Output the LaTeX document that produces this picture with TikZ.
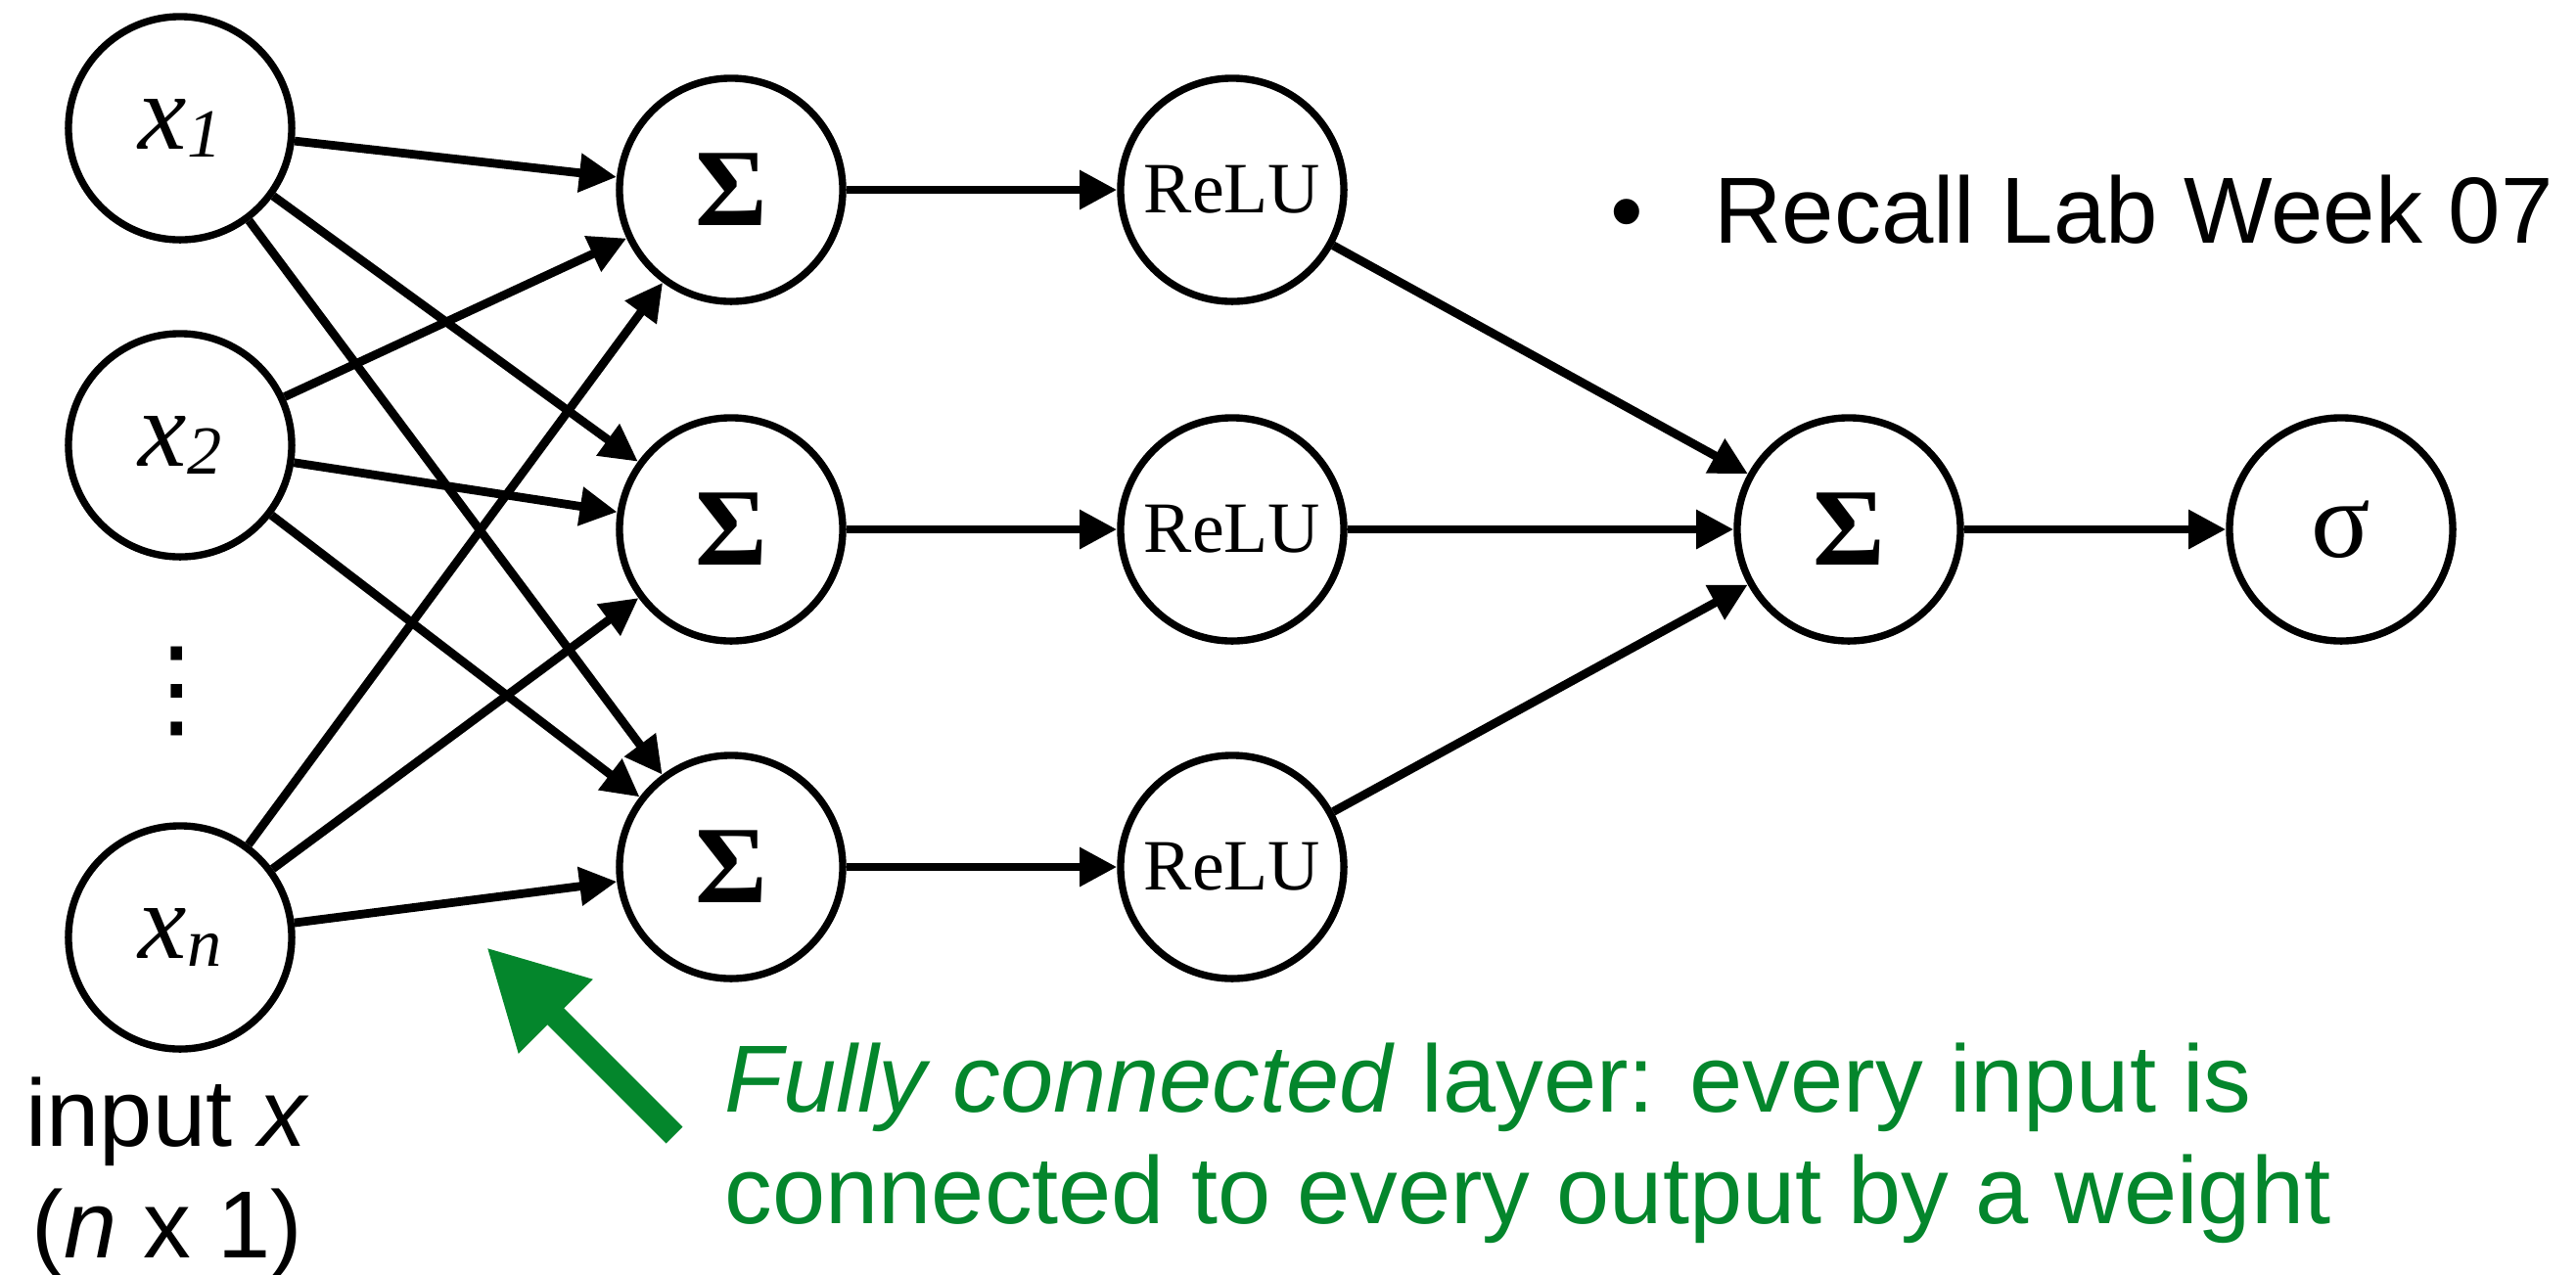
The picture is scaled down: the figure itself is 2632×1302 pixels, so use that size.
\documentclass[tikz,border=0pt]{standalone}
\usepackage{fontspec}
\setmainfont{Liberation Serif}
\setsansfont{Liberation Sans}
\newfontfamily\symfont{DejaVu Sans}
\usetikzlibrary{arrows.meta}
\definecolor{fcgreen}{RGB}{4,134,44}
\newcommand{\inlab}[1]{\textit{x}\raisebox{-0.08cm}{\fontsize{20}{20}\selectfont\textit{#1}}}

\begin{document}
\begin{tikzpicture}[x=0.01cm,y=-0.01cm,
  neuron/.style={circle,draw,line width=2.1pt,minimum size=2.28cm,inner sep=0pt},
  wire/.style={line width=2.5pt,-{Triangle[length=0.38cm,width=0.38cm]}},
  big/.style={font=\fontsize{32}{32}\selectfont},
  note/.style={inner sep=0pt,font=\sffamily\fontsize{27.7}{32.4}\selectfont}]
\useasboundingbox (0,0) rectangle (2632,1302);

% inputs
\node[neuron,font=\fontsize{31.6}{32}\selectfont] (x1) at (184,131) {\inlab{1}};
\node[neuron,font=\fontsize{31.6}{32}\selectfont] (x2) at (184,455) {\inlab{2}};
\node[neuron,font=\fontsize{31.6}{32}\selectfont] (xn) at (184,958) {\inlab{n}};
\node[inner sep=0pt,font=\symfont\fontsize{32}{32}\selectfont] (dots) at (181,706) {⋮};

% hidden layer
\node[neuron,big] (s1) at (747,194) {\textbf{Σ}};
\node[neuron,big] (s2) at (747,541) {\textbf{Σ}};
\node[neuron,big] (s3) at (747,886) {\textbf{Σ}};
\node[neuron,font=\fontsize{21}{21}\selectfont] (r1) at (1259,194) {ReLU};
\node[neuron,font=\fontsize{21}{21}\selectfont] (r2) at (1259,541) {ReLU};
\node[neuron,font=\fontsize{21}{21}\selectfont] (r3) at (1259,886) {ReLU};

% output
\node[neuron,big] (out) at (1889,541) {\textbf{Σ}};
\node[neuron,big] (sig) at (2392,541) {σ};

\foreach \i in {x1,x2,xn}
  \foreach \j in {s1,s2,s3}
    \draw[wire] (\i) -- (\j);
\foreach \k in {1,2,3} {
  \draw[wire] (s\k) -- (r\k);
  \draw[wire] (r\k) -- (out);
}
\draw[wire] (out) -- (sig);

% labels
\node[note,anchor=base west,font=\sffamily\fontsize{27.3}{32.4}\selectfont] (recall) at (1645,248) {\textbullet\hspace{0.72cm}Recall Lab Week 07};
\node[note,anchor=north,align=center] (inlabel) at (171,1100) {input \textit{x}\\(\textit{n} x 1)};
\node[note,anchor=north west,align=left,text=fcgreen] (fclabel) at (740,1065)
  {\textit{Fully connected} layer: every input is\\connected to every output by a weight};

\coordinate (fctail) at (689,1160);
\coordinate (fctip) at (497,968);
\draw[fcgreen,line width=0.24cm,-{Triangle[length=1cm,width=1cm]}] (fctail) -- (fctip);
\end{tikzpicture}
\end{document}
